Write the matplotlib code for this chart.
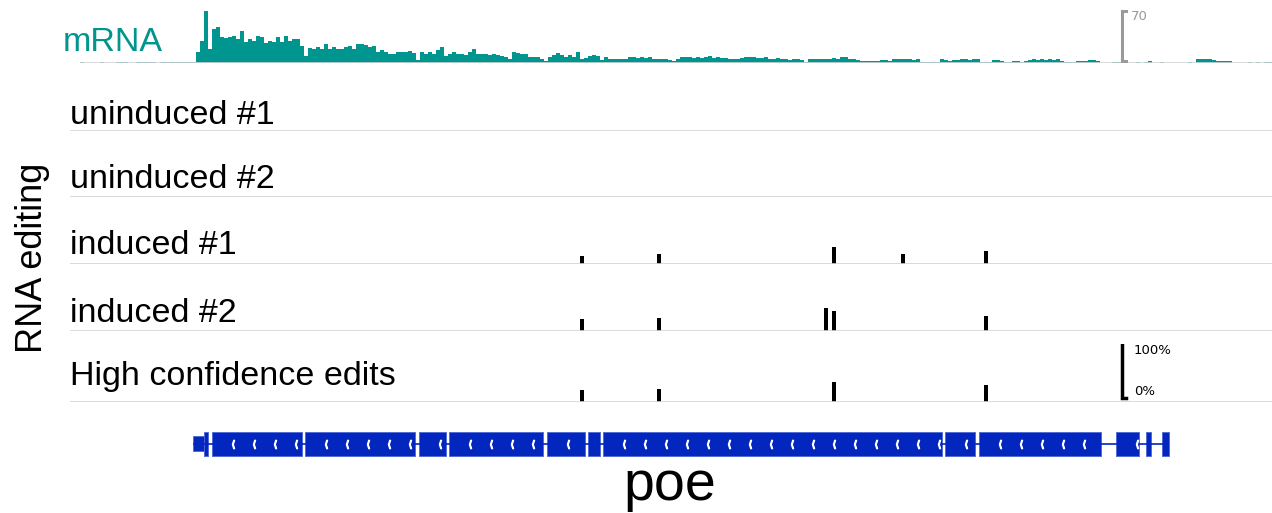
import numpy as np
import matplotlib.pyplot as plt

W, H = 1272, 513

# mRNA coverage (reads), 4-position bins starting at position 80
cov_start = 80
cov_bin = 4
coverage = [1, 0, 0, 0, 0, 1, 0, 0, 0, 1, 1, 1, 0, 0, 1, 1, 1, 1, 1, 0, 1, 1, 1, 1, 1, 1, 1, 1, 1,
            15, 31, 73, 20, 47, 50, 36, 35, 36, 38,
            34, 45, 30, 33, 31, 38, 36, 28, 31, 30,
            37, 29, 38, 31, 34, 34, 24, 10, 21, 19,
            22, 20, 26, 20, 23, 19, 20, 22, 24, 20,
            27, 26, 25, 23, 24, 15, 18, 16, 12, 13,
            15, 15, 16, 17, 14, 4, 15, 12, 15, 13,
            18, 22, 10, 12, 15, 13, 12, 11, 16, 19,
            12, 12, 12, 11, 12, 11, 10, 8, 5, 16,
            14, 12, 12, 9, 8, 8, 5, 3, 9, 11,
            14, 11, 9, 11, 9, 15, 6, 7, 10, 11,
            10, 4, 8, 6, 5, 5, 5, 6, 8, 8,
            7, 9, 7, 8, 6, 5, 6, 5, 4, 3,
            6, 8, 9, 8, 7, 8, 7, 9, 10, 7,
            8, 7, 7, 6, 6, 6, 7, 8, 8, 9,
            7, 7, 8, 6, 6, 7, 5, 5, 4, 5,
            5, 4, 2, 5, 5, 6, 5, 6, 6, 7,
            6, 8, 9, 6, 5, 4, 3, 3, 3, 3,
            3, 4, 4, 3, 5, 6, 5, 5, 6, 4,
            5, 2, 2, 2, 2, 2, 5, 4, 3, 4,
            4, 5, 5, 4, 5, 5, 2, 2, 2, 4,
            4, 3, 2, 2, 3, 3, 2, 3, 4, 5,
            4, 5, 4, 5, 4, 5, 3, 2, 2, 2,
            3, 3, 3, 4, 4, 3, 0, 0, 0, 2,
            2, 2, 1, 0, 0, 2, 0, 2, 3, 0,
            0, 2, 0, 0, 0, 0, 0, 0, 2, 0,
            5, 6, 6, 5, 4, 3, 3, 3, 3, 0,
            0, 0, 0, 2, 0, 2, 0, 2, 1]
cov_scale = 70

# editing sites and editing level (%) per sample
edit_sites = [582, 659, 826, 834, 903, 986]
uninduced_1 = [0, 0, 0, 0, 0, 0]
uninduced_2 = [0, 0, 0, 0, 0, 0]
induced_1 = [14, 17, 0, 29, 17, 22]
induced_2 = [20, 23, 40, 34, 0, 26]
high_conf = [21, 22, 0, 34, 0, 29]
track_names = ['uninduced #1', 'uninduced #2', 'induced #1', 'induced #2',
               'High confidence edits']
track_values = [uninduced_1, uninduced_2, induced_1, induced_2, high_conf]

# gene model (poe, minus strand)
utr = (193, 204)
exon_starts = [204, 212, 305, 419, 449, 547, 588, 603, 945, 979, 1116, 1146, 1162]
exon_ends = [208, 302, 415, 446, 543, 585, 600, 942, 975, 1101, 1139, 1151, 1169]

teal = '#00958e'
blue = '#0326be'
label_font = ['Liberation Sans', 'DejaVu Sans']

fig = plt.figure(figsize=(W / 100, H / 100), dpi=100)


def add_track(bottom_px, height_px):
    ax = fig.add_axes([0, 1 - bottom_px / H, 1, height_px / H])
    ax.set_xlim(0, W)
    ax.axis('off')
    return ax


def fy(px):
    return 1 - px / H


# mRNA coverage track
ax = add_track(63, 75 * 50 / 70)
ax.set_ylim(0, 75)
x = cov_start + cov_bin * np.arange(len(coverage))
ax.hlines(0, cov_start, W, color='#d4d4d4', lw=1.2)
ax.bar(x, coverage, width=cov_bin, align='edge', color=teal, linewidth=0)
sx = 1122
ax.plot([sx + 4, sx, sx, sx + 4], [cov_scale + 3, cov_scale + 3, 3, 3],
        color='#9a9a9a', lw=2.2, solid_joinstyle='miter')
fig.text(1131 / W, fy(16), str(cov_scale), color='#9a9a9a', fontsize=9.5,
         va='center', ha='left')
fig.text(63 / W, fy(51), 'mRNA', color=teal, fontsize=24.5,
         family=label_font, va='baseline')

# editing tracks
baselines = [131, 197, 264, 331, 402]
label_base = [124, 188, 254, 322, 385]
for name, vals, yb, ly in zip(track_names, track_values, baselines, label_base):
    ax = add_track(yb, 58)
    ax.set_ylim(0, 100)
    ax.hlines(0, 70, W, color='#d4d4d4', lw=1.2)
    ax.bar(edit_sites, vals, width=3.5, color='black', linewidth=0)
    fig.text(70 / W, fy(ly), name, fontsize=24.5, family=label_font,
             va='baseline')
    if name.startswith('High'):
        ax.plot([sx + 4, sx, sx, sx + 4], [107, 107, 7, 7],
                color='black', lw=2.5, solid_joinstyle='miter')
        ax.text(1134, 88, '100%', fontsize=9.5, va='center')
        ax.text(1134, 18, '0%', fontsize=9.5, va='center')

fig.text(33 / W, fy(258), 'RNA editing', rotation=90, fontsize=26,
         family=label_font, ha='center', va='center')

# gene model
ax = add_track(464, 40)
ax.set_ylim(-20, 20)
ax.hlines(0, utr[0], exon_ends[-1], color=blue, lw=1.2)
ax.broken_barh([(utr[0], utr[1] - utr[0])], (-7.5, 15), facecolor=blue,
               edgecolor='#4a66d8', lw=0.6)
ax.broken_barh([(s, e - s) for s, e in zip(exon_starts, exon_ends)], (-12, 24),
               facecolor=blue, edgecolor='#4a66d8', lw=0.6)
chev = []
for s, e in zip(exon_starts, exon_ends):
    c = s + 21
    while c < e - 1:
        chev.append(c)
        c += 21
ax.plot(chev, np.zeros(len(chev)), ls='none', marker=r'$\langle$', ms=6,
        color='white')
fig.text(670 / W, fy(500), 'poe', fontsize=40, family=label_font,
         ha='center', va='baseline')

fig.savefig('out.png', dpi=100)
